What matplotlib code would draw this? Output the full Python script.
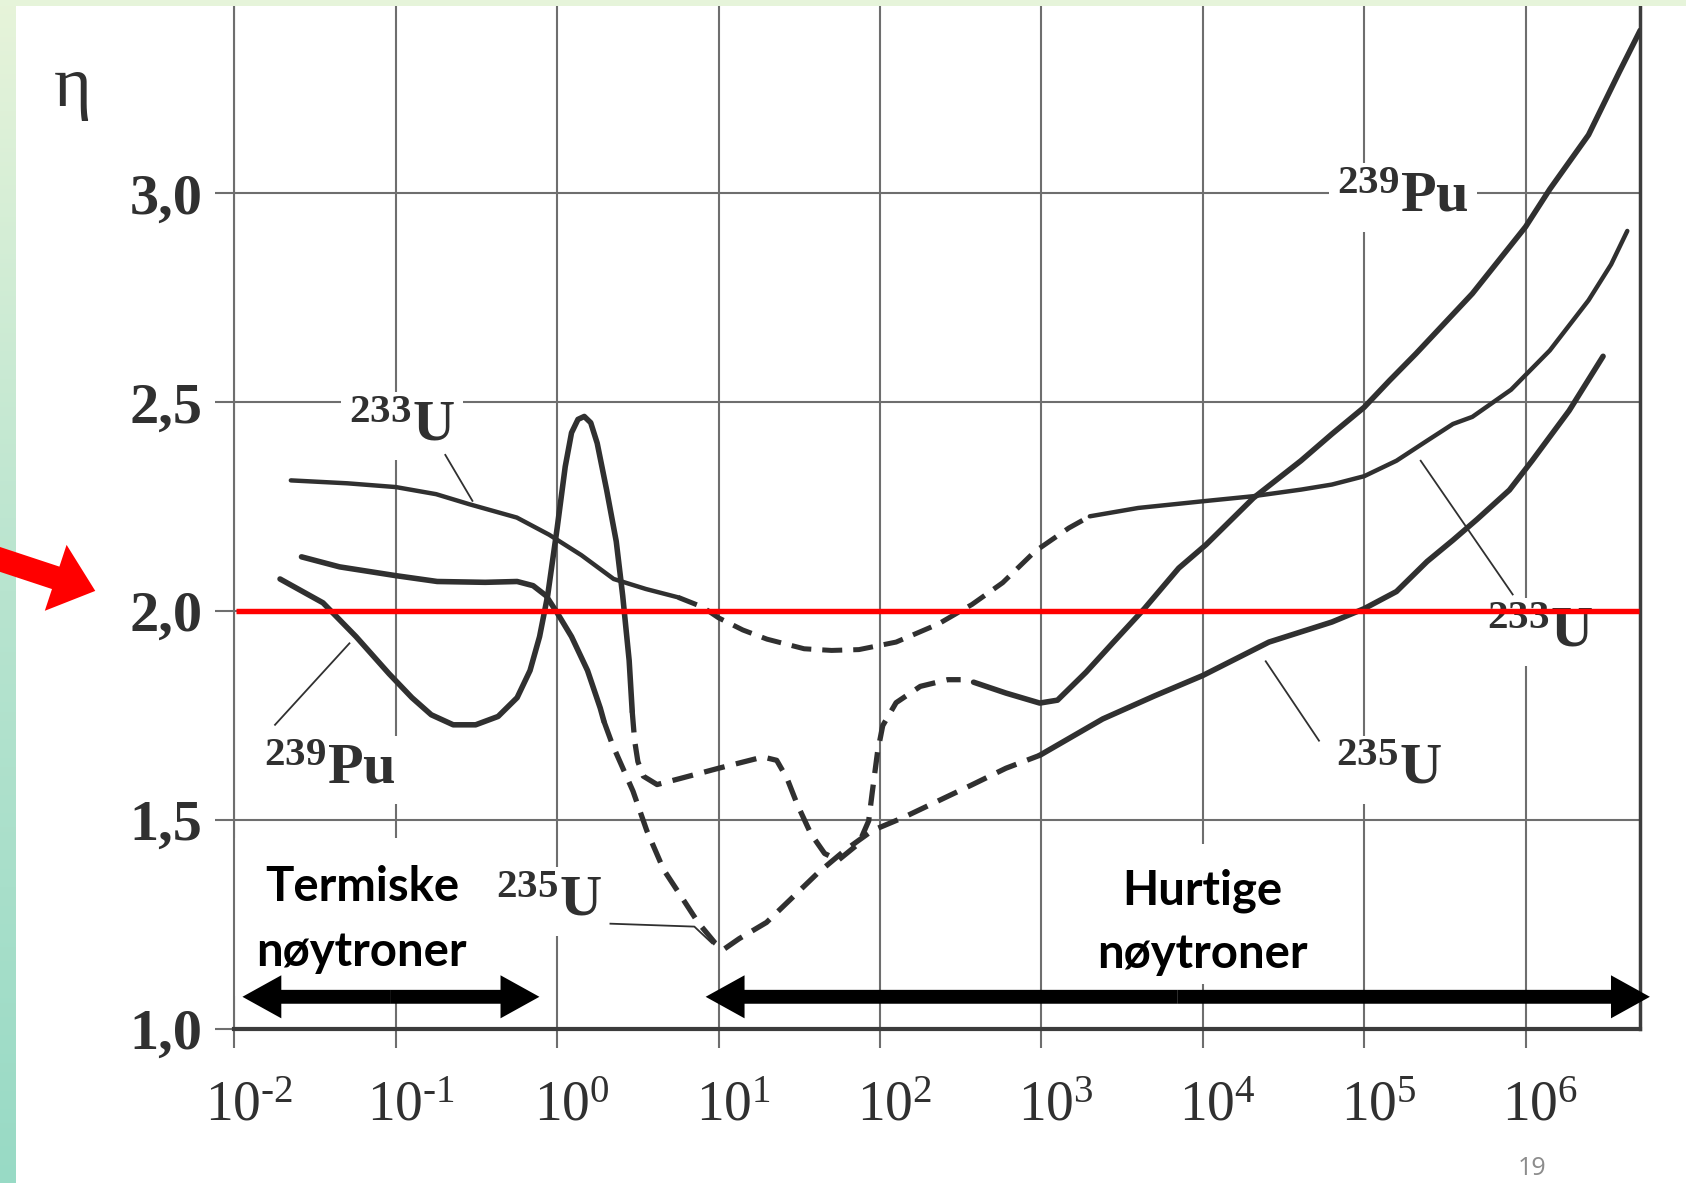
import numpy as np
import matplotlib
matplotlib.use('Agg')
import matplotlib.pyplot as plt
import matplotlib.transforms as mtransforms
from matplotlib.patches import FancyArrowPatch, Rectangle
from matplotlib.colors import LinearSegmentedColormap

plt.rcParams['mathtext.fontset'] = 'custom'
plt.rcParams['mathtext.rm'] = 'Liberation Serif'
plt.rcParams['mathtext.bf'] = 'Liberation Serif:bold'
plt.rcParams['mathtext.it'] = 'Liberation Serif:italic'

# log10(E / eV) and eta; a = solid, b = dashed, c = solid
u233_loge_a = [-1.65, -1.3, -1.0, -0.75, -0.545, -0.25, -0.05, 0.15, 0.35, 0.55, 0.75]
u233_eta_a = [2.313, 2.306, 2.297, 2.28, 2.256, 2.224, 2.183, 2.134, 2.077, 2.053, 2.033]
u233_loge_b = [0.75, 0.9, 1.0, 1.15, 1.3, 1.53, 1.7, 1.87, 2.1, 2.36, 2.57, 2.76, 2.96, 3.17, 3.3]
u233_eta_b = [2.033, 2.01, 1.984, 1.955, 1.933, 1.91, 1.906, 1.908, 1.926, 1.969, 2.016, 2.068, 2.143, 2.199, 2.227]
u233_loge_c = [3.3, 3.6, 4.0, 4.31, 4.61, 4.8, 5.0, 5.2, 5.39, 5.55, 5.67, 5.91, 6.15, 6.39, 6.53, 6.63]
u233_eta_c = [2.227, 2.247, 2.263, 2.275, 2.291, 2.303, 2.323, 2.36, 2.408, 2.448, 2.465, 2.53, 2.624, 2.744, 2.83, 2.91]

u235_loge_a = [-1.584, -1.348, -1.0, -0.743, -0.446, -0.248, -0.149, -0.069, 0.0, 0.089, 0.188, 0.267, 0.29]
u235_eta_a = [2.130, 2.106, 2.085, 2.071, 2.069, 2.071, 2.061, 2.037, 1.996, 1.939, 1.858, 1.768, 1.736]
u235_loge_b = [0.29, 0.343, 0.47, 0.555, 0.66, 0.767, 0.873, 0.98, 1.03, 1.127, 1.297, 1.445, 1.614,
               1.784, 1.953, 2.144, 2.356, 2.568, 2.78, 2.99]
u235_eta_b = [1.736, 1.68, 1.569, 1.475, 1.381, 1.318, 1.255, 1.205, 1.19, 1.216, 1.255, 1.31, 1.373,
              1.428, 1.475, 1.506, 1.545, 1.584, 1.624, 1.655]
u235_loge_c = [2.99, 3.38, 3.7, 4.0, 4.41, 4.8, 5.0, 5.2, 5.39, 5.55, 5.7, 5.9, 6.04, 6.27, 6.48]
u235_eta_c = [1.655, 1.742, 1.797, 1.846, 1.926, 1.974, 2.006, 2.047, 2.119, 2.17, 2.22, 2.29, 2.36, 2.48, 2.61]

pu239_loge_a = [-1.717, -1.451, -1.246, -1.041, -0.90, -0.78, -0.644, -0.505, -0.366, -0.248, -0.168,
                -0.109, -0.059, 0.0, 0.05, 0.089, 0.129, 0.168, 0.208, 0.248, 0.307, 0.366, 0.406,
                0.446, 0.465]
pu239_eta_a = [2.077, 2.02, 1.939, 1.85, 1.793, 1.752, 1.728, 1.728, 1.748, 1.793, 1.858,
               1.939, 2.037, 2.199, 2.346, 2.427, 2.459, 2.466, 2.451, 2.402, 2.289, 2.167, 2.037,
               1.882, 1.76]
pu239_loge_b = [0.465, 0.48, 0.5, 0.534, 0.619, 0.767, 1.0, 1.275, 1.36, 1.424, 1.487, 1.572, 1.657,
                1.742, 1.869, 1.93, 1.953, 1.985, 2.017, 2.1, 2.25, 2.42, 2.5]
pu239_eta_b = [1.76, 1.69, 1.64, 1.605, 1.585, 1.6, 1.624, 1.651, 1.643, 1.6, 1.538, 1.467, 1.42,
               1.404, 1.444, 1.498, 1.569, 1.663, 1.726, 1.781, 1.82, 1.836, 1.836]
pu239_loge_c = [2.58, 2.78, 2.99, 3.1, 3.277, 3.447, 3.638, 3.851, 4.02, 4.314, 4.608, 4.8, 5.0,
                5.157, 5.32, 5.67, 6.0, 6.15, 6.39, 6.58, 6.71]
pu239_eta_c = [1.83, 1.804, 1.78, 1.787, 1.854, 1.926, 2.006, 2.103, 2.159, 2.271, 2.36, 2.424, 2.488,
               2.552, 2.616, 2.76, 2.92, 3.01, 3.14, 3.29, 3.39]

x_ticks = [1e-2, 1e-1, 1e0, 1e1, 1e2, 1e3, 1e4, 1e5, 1e6]
x_ticklabels = ['$10^{\u20102}$', '$10^{\u20101}$', '$10^{0}$', '$10^{1}$', '$10^{2}$',
                '$10^{3}$', '$10^{4}$', '$10^{5}$', '$10^{6}$']
y_ticks = [1.0, 1.5, 2.0, 2.5, 3.0]
y_ticklabels = ['1,0', '1,5', '2,0', '2,5', '3,0']
red_level = 2.0

ink = '#303030'
grid_col = '#6e6e6e'
serif = 'Liberation Serif'

fig = plt.figure(figsize=(16.86, 11.83), dpi=100)

# slide background strips
edge = fig.add_axes([0, 0, 16 / 1686, 1])
edge.imshow(np.linspace(0, 1, 256).reshape(-1, 1), aspect='auto',
            cmap=LinearSegmentedColormap.from_list('edge', ['#e7f4da', '#b8e4cf', '#98dac5']))
edge.axis('off')
fig.add_artist(Rectangle((0, 1 - 6 / 1183), 1, 6 / 1183, transform=fig.transFigure,
                         color='#e6f4da', lw=0))

ax = fig.add_axes([0.139, 0.1302, 0.8336, 0.8653])
ax.set_xscale('log')
ax.set_xlim(1e-2, 5.1e6)
ax.set_ylim(1.0, 3.45)
ax.set_axisbelow(True)
ax.grid(True, which='major', color=grid_col, lw=1.5)
ax.xaxis.set_minor_locator(matplotlib.ticker.NullLocator())
ax.set_xticks(x_ticks)
ax.set_xticklabels(x_ticklabels, fontsize=40, color=ink)
ax.set_yticks(y_ticks)
ax.set_yticklabels(y_ticklabels, fontsize=42, family=serif, fontweight='bold', color=ink)
ax.tick_params(axis='both', direction='out', length=14, width=1.5, color=grid_col)
ax.tick_params(axis='x', pad=22)
ax.tick_params(axis='y', pad=9)
offset = mtransforms.ScaledTranslation(0.15, 0, fig.dpi_scale_trans)
for lab in ax.get_xticklabels():
    lab.set_transform(lab.get_transform() + offset)
ax.spines['top'].set_visible(False)
ax.spines['left'].set_color(grid_col)
ax.spines['left'].set_linewidth(1.5)
ax.spines['bottom'].set_color('#3c3c3c')
ax.spines['bottom'].set_linewidth(3)
ax.spines['right'].set_color('#3c3c3c')
ax.spines['right'].set_linewidth(2.5)

dash = (0, (4, 2.2))


def curve(loge, eta, dashed, lw):
    ax.plot(10.0 ** np.array(loge), eta, color=ink, lw=lw,
            ls=dash if dashed else '-', solid_capstyle='round', solid_joinstyle='round',
            dash_joinstyle='round', zorder=3)


curve(u233_loge_a, u233_eta_a, False, 3.2)
curve(u233_loge_b, u233_eta_b, True, 3.6)
curve(u233_loge_c, u233_eta_c, False, 3.2)
curve(u235_loge_a, u235_eta_a, False, 4.0)
curve(u235_loge_b, u235_eta_b, True, 3.8)
curve(u235_loge_c, u235_eta_c, False, 4.0)
curve(pu239_loge_a, pu239_eta_a, False, 4.0)
curve(pu239_loge_b, pu239_eta_b, True, 3.8)
curve(pu239_loge_c, pu239_eta_c, False, 4.0)


def label(x, y, mass, sym):
    ax.text(10.0 ** x, y, r'$^{\mathbf{%s}}$%s' % (mass, sym), fontsize=42, family=serif,
            fontweight='bold', color=ink, ha='center', va='center', zorder=2,
            bbox=dict(fc='white', ec='none', pad=6))


def leader(xs, ys):
    ax.plot(10.0 ** np.array(xs), ys, color=ink, lw=1.3, zorder=3)


label(-0.96, 2.443, '233', 'U')
leader([-0.693, -0.525], [2.374, 2.264])
label(-1.41, 1.62, '239', 'Pu')
leader([-1.748, -1.287], [1.728, 1.923])
label(-0.05, 1.305, '235', 'U')
leader([0.33, 0.85, 0.96], [1.252, 1.245, 1.205])
label(5.24, 2.99, '239', 'Pu')
label(6.09, 1.95, '233', 'U')
leader([5.35, 5.92], [2.36, 2.04])
label(5.15, 1.62, '235', 'U')
leader([4.39, 4.72], [1.88, 1.69])

# red threshold line eta = 2
ax.hlines(red_level, 10 ** -1.99, 10 ** 6.70, colors='#ff0000', lw=3.9, zorder=4)

# white panels with the neutron regime captions
for x0, x1, y0, y1 in [(-2.0, -0.18, 1.08, 1.456), (3.05, 4.95, 1.108, 1.443)]:
    ax.add_patch(Rectangle((10 ** x0, y0), 10 ** x1 - 10 ** x0, y1 - y0,
                           fc='white', ec='none', zorder=1.5))
cap = dict(fontsize=34, family='Lato', fontweight='bold', color='black', ha='center',
           va='center', zorder=5)
ax.text(10 ** -1.21, 1.34, 'Termiske', **cap)
ax.text(10 ** -1.21, 1.185, 'nøytroner', **cap)
ax.text(10 ** 4.0, 1.332, 'Hurtige', **cap)
ax.text(10 ** 4.0, 1.18, 'nøytroner', **cap)


def double_arrow(x0, x1, y):
    xm = 10 ** ((x0 + x1) / 2)
    for end in (x0, x1):
        ax.add_patch(FancyArrowPatch((xm, y), (10 ** end, y),
                                     arrowstyle='simple,head_length=28,head_width=31,tail_width=10',
                                     mutation_scale=1, color='black', lw=0, shrinkA=0, shrinkB=0,
                                     zorder=5, clip_on=False))


double_arrow(-1.95, -0.11, 1.077)
double_arrow(0.92, 6.77, 1.077)

fig.add_artist(FancyArrowPatch((-0.004, 0.529), (0.0565, 0.5005), transform=fig.transFigure,
                               arrowstyle='simple,head_length=30,head_width=50,tail_width=17',
                               mutation_scale=1, color='#ff0000', lw=0, shrinkA=0, shrinkB=0))

fig.text(68 / 1568, 1 - 82 / 1100, 'η', family=serif, fontsize=52, color=ink,
         ha='center', va='center')
fig.text(1425 / 1568, 0.002, '19', fontsize=18, color='#8c8c8c',
         ha='center', va='bottom', family='Open Sans')

fig.savefig('out.png', dpi=100)
